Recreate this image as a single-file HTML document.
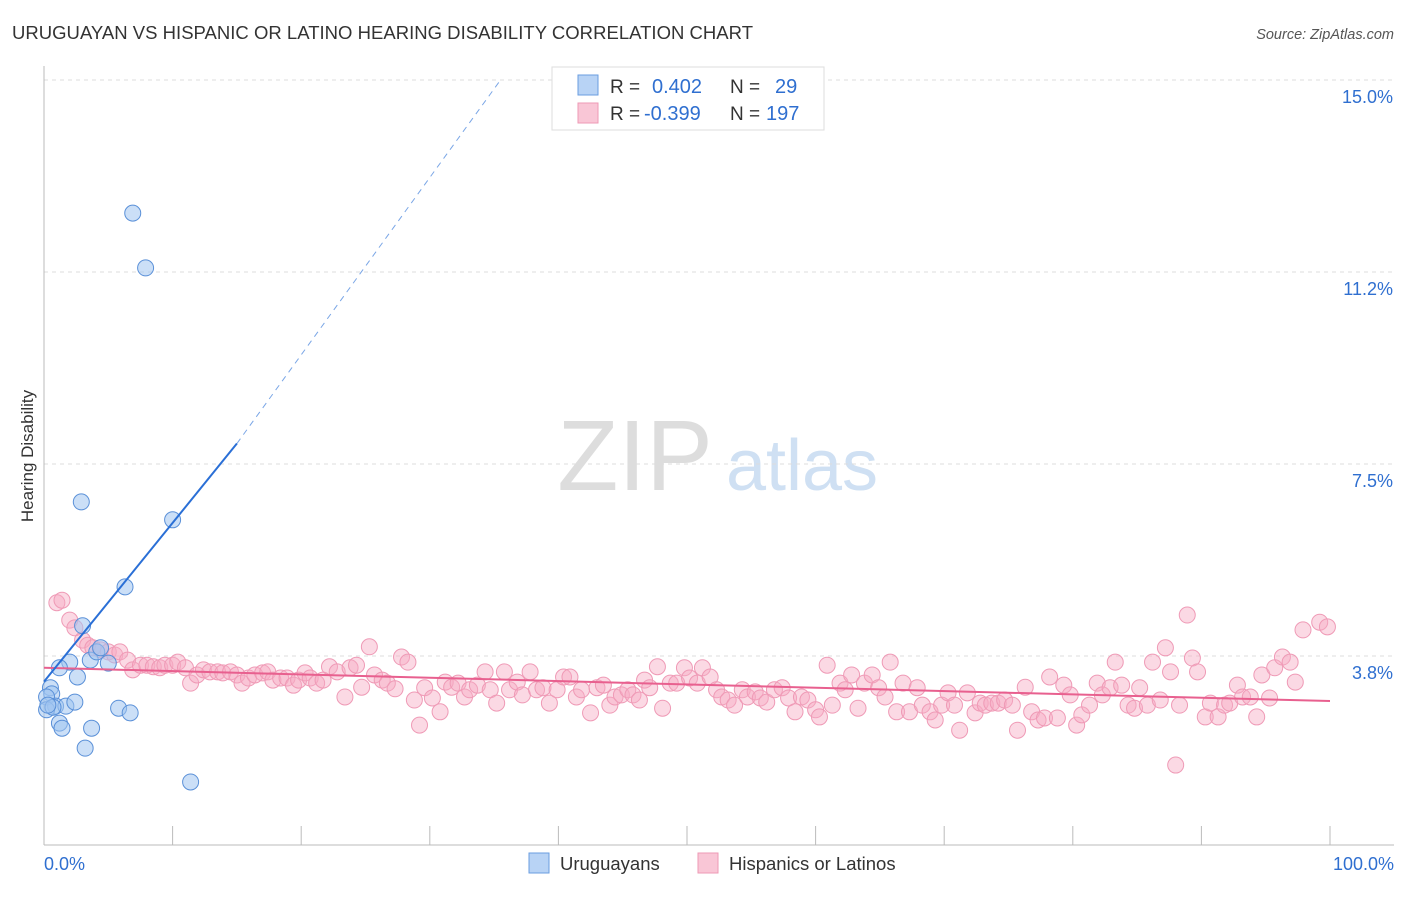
<!DOCTYPE html>
<html><head><meta charset="utf-8">
<style>
body{margin:0;background:#fff;font-family:"Liberation Sans",sans-serif;}
svg text{font-family:"Liberation Sans",sans-serif;}
</style></head>
<body>
<svg id="chart" width="1406" height="892">
<text x="12" y="39" font-size="18.5" fill="#333" textLength="741">URUGUAYAN VS HISPANIC OR LATINO HEARING DISABILITY CORRELATION CHART</text>
<text x="1394" y="39" font-size="14.5" fill="#555" font-style="italic" text-anchor="end">Source: ZipAtlas.com</text>
<text x="33" y="456" font-size="17" fill="#333" text-anchor="middle" transform="rotate(-90 33 456)">Hearing Disability</text>
<g>
<text x="635" y="490" font-size="100" fill="#ddd" font-family="Liberation Serif" text-anchor="middle">ZIP</text>
<text x="802" y="490" font-size="72" fill="#cfe0f3" text-anchor="middle">atlas</text>
</g>
<g id="grid"></g>
<g id="marks"></g>
<g>
<rect x="552" y="67" width="272" height="63" fill="#fff" stroke="#ddd"/>
<rect x="578" y="75" width="20" height="20" fill="#b8d3f5" stroke="#6a9ee0"/>
<rect x="578" y="103" width="20" height="20" fill="#f9c6d6" stroke="#ee9ab5"/>
<text x="610" y="93" font-size="19" fill="#333">R =</text>
<text x="652" y="93" font-size="20" fill="#2f6fd0">0.402</text>
<text x="730" y="93" font-size="19" fill="#333">N =</text>
<text x="775" y="93" font-size="20" fill="#2f6fd0">29</text>
<text x="610" y="120" font-size="19" fill="#333">R =</text>
<text x="644" y="120" font-size="20" fill="#2f6fd0">-0.399</text>
<text x="730" y="120" font-size="19" fill="#333">N =</text>
<text x="766" y="120" font-size="20" fill="#2f6fd0">197</text>
</g>
<g>
<rect x="529" y="853" width="20" height="20" fill="#b8d3f5" stroke="#6a9ee0"/>
<text x="560" y="870" font-size="18.5" fill="#333">Uruguayans</text>
<rect x="698" y="853" width="20" height="20" fill="#f9c6d6" stroke="#ee9ab5"/>
<text x="729" y="870" font-size="18.5" fill="#333">Hispanics or Latinos</text>
</g>
</svg>
<script>
const yTicks=[3.75,7.5,11.25,15];
const yTickLabels=["3.8%","7.5%","11.2%","15.0%"];
const xTickLabels=["0.0%","100.0%"];
const blueX=[6.9,7.9,2.9,10.0,6.3,3.0,2.0,3.6,1.2,2.6,5.0,4.1,0.5,0.6,0.2,0.9,0.2,1.7,2.4,0.7,1.2,1.4,3.7,5.8,6.7,3.2,11.4,0.3,4.4];
const blueY=[12.40,11.33,6.76,6.41,5.10,4.34,3.63,3.67,3.52,3.34,3.61,3.83,3.13,3.01,2.95,2.77,2.70,2.77,2.85,2.75,2.44,2.34,2.34,2.73,2.64,1.95,1.29,2.79,3.91];
const pinkX=[1.0,1.4,2.0,2.4,3.0,3.4,3.8,4.4,5.0,5.5,5.9,6.5,6.9,7.5,8.0,8.5,9.0,9.4,10.0,10.4,11.0,11.4,11.9,12.4,12.9,13.5,13.9,14.5,15.0,15.4,15.9,16.4,17.0,17.4,17.8,18.4,18.9,19.4,19.8,20.3,20.7,21.2,21.7,22.2,22.8,23.4,23.8,24.3,24.7,25.3,25.7,26.3,26.7,27.3,27.8,28.3,28.8,29.2,29.6,30.2,30.8,31.2,31.7,32.2,32.7,33.1,33.7,34.3,34.7,35.2,35.8,36.2,36.8,37.2,37.8,38.3,38.8,39.3,39.9,40.4,40.9,41.4,41.8,42.5,43.0,43.5,44.0,44.4,44.9,45.4,45.8,46.3,46.7,47.1,47.7,48.1,48.7,49.2,49.8,50.2,50.8,51.2,51.8,52.3,52.7,53.2,53.7,54.3,54.7,55.3,55.7,56.2,56.8,57.4,57.9,58.4,58.9,59.4,60.0,60.3,60.9,61.3,61.9,62.3,62.8,63.3,63.8,64.4,64.9,65.4,65.8,66.3,66.8,67.3,67.9,68.3,68.9,69.3,69.8,70.3,70.8,71.2,71.8,72.4,72.8,73.2,73.7,74.2,74.7,75.3,75.7,76.3,76.8,77.3,77.8,78.2,78.8,79.3,79.8,80.3,80.7,81.3,81.9,82.3,82.9,83.3,83.8,84.3,84.8,85.2,85.8,86.2,86.8,87.2,87.6,88.0,88.3,88.9,89.3,89.7,90.3,90.7,91.3,91.8,92.2,92.8,93.2,93.8,94.3,94.7,95.3,95.7,96.3,96.9,97.3,97.9,99.2,99.8];
const pinkY=[4.79,4.84,4.45,4.30,4.06,3.96,3.91,3.87,3.83,3.77,3.83,3.67,3.48,3.57,3.57,3.54,3.52,3.57,3.57,3.63,3.52,3.22,3.38,3.48,3.44,3.44,3.42,3.44,3.38,3.22,3.32,3.38,3.42,3.44,3.28,3.32,3.32,3.18,3.28,3.42,3.32,3.22,3.28,3.54,3.44,2.95,3.52,3.57,3.14,3.93,3.38,3.28,3.22,3.11,3.73,3.63,2.89,2.40,3.13,2.93,2.66,3.24,3.14,3.22,2.95,3.09,3.18,3.44,3.09,2.83,3.44,3.09,3.24,2.99,3.44,3.09,3.13,2.83,3.09,3.34,3.34,2.95,3.09,2.64,3.13,3.18,2.79,2.95,2.99,3.09,2.99,2.89,3.28,3.13,3.54,2.73,3.22,3.22,3.52,3.32,3.22,3.52,3.34,3.09,2.95,2.89,2.79,3.09,2.95,3.05,2.93,2.85,3.09,3.13,2.93,2.66,2.95,2.89,2.70,2.56,3.57,2.79,3.22,3.09,3.38,2.73,3.22,3.38,3.13,2.95,3.63,2.66,3.22,2.66,3.13,2.79,2.66,2.50,2.79,3.03,2.79,2.30,3.03,2.64,2.83,2.79,2.83,2.83,2.89,2.79,2.30,3.14,2.66,2.50,2.54,3.34,2.54,3.18,2.99,2.40,2.60,2.79,3.22,2.99,3.13,3.63,3.18,2.79,2.73,3.13,2.79,3.63,2.89,3.91,3.44,1.62,2.79,4.55,3.71,3.44,2.56,2.83,2.56,2.79,2.83,3.18,2.95,2.95,2.56,3.38,2.93,3.52,3.73,3.63,3.24,4.26,4.41,4.32];
const blueTrendX=[0,15,35.5];
const blueTrendY=[3.25,7.9,15];
const pinkTrendX=[0,100];
const pinkTrendY=[3.52,2.87];

const NS="http://www.w3.org/2000/svg";
const X=v=>44+v*12.86;
const Y=v=>848-v*51.2;
function mk(tag,attrs,parent){const e=document.createElementNS(NS,tag);for(const k in attrs)e.setAttribute(k,attrs[k]);parent.appendChild(e);return e;}
const grid=document.getElementById('grid');
const marks=document.getElementById('marks');
yTicks.forEach((t,i)=>{
  const l=mk('line',{x1:44,x2:1394,y1:Y(t),y2:Y(t),stroke:'#ddd','stroke-dasharray':'4,4'},grid);
  
  
  const tx=mk('text',{x:1393,y:Y(t)+23,'font-size':18,fill:'#2f6fd0','text-anchor':'end'},grid);
  tx.textContent=yTickLabels[i];
  
  
});
const ax=mk('line',{x1:44,x2:1394,y1:845,y2:845,stroke:'#bbb'},grid);


const ay=mk('line',{x1:44,x2:44,y1:66,y2:845,stroke:'#bbb'},grid);


for(let p=0;p<=100;p+=10){
  const t=mk('line',{x1:X(p),x2:X(p),y1:826,y2:845,stroke:'#bbb'},grid);
  
  
}
[[0,'start',44],[100,'end',1394]].forEach((d,i)=>{
  const t=mk('text',{x:d[2],y:870,'font-size':18,fill:'#2f6fd0','text-anchor':d[1]},grid);
  t.textContent=xTickLabels[i];
  
  
});
pinkX.forEach((x,i)=>{
  const c=mk('circle',{cx:X(x),cy:Y(pinkY[i]),r:8,fill:'rgba(246,170,196,0.45)',stroke:'#ef9ab6','stroke-width':1},marks);
  
  
});
blueX.forEach((x,i)=>{
  const c=mk('circle',{cx:X(x),cy:Y(blueY[i]),r:8,fill:'rgba(160,196,240,0.55)',stroke:'#5a90d8','stroke-width':1},marks);
  
  
});
const pl=mk('line',{x1:X(pinkTrendX[0]),y1:Y(pinkTrendY[0]),x2:X(pinkTrendX[1]),y2:Y(pinkTrendY[1]),stroke:'#e8608f','stroke-width':2},marks);


const bl=mk('line',{x1:X(blueTrendX[0]),y1:Y(blueTrendY[0]),x2:X(blueTrendX[1]),y2:Y(blueTrendY[1]),stroke:'#2a6fd6','stroke-width':2},marks);


const bd=mk('line',{x1:X(blueTrendX[1]),y1:Y(blueTrendY[1]),x2:X(blueTrendX[2]),y2:Y(blueTrendY[2]),stroke:'#7aa6e6','stroke-width':1,'stroke-dasharray':'6,5'},marks);


</script>
</body></html>
